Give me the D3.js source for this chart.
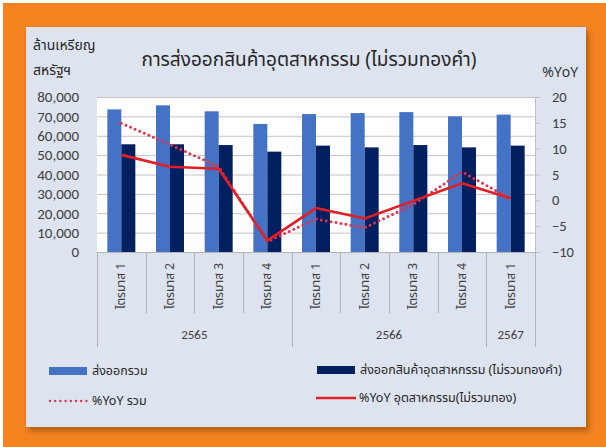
<!DOCTYPE html>
<html>
<head>
<meta charset="utf-8">
<script src="https://cdn.jsdelivr.net/npm/d3@7"></script>
<style>
  html, body { margin: 0; padding: 0; background: #ffffff; }
  svg { display: block; }
  text { font-family: Tahoma, "Leelawadee UI", "Noto Sans Thai", "Noto Sans", "DejaVu Sans", sans-serif; }
</style>
</head>
<body>
<svg id="chart" width="606" height="447"></svg>
<script>
// Quarterly export values (million USD) and year-on-year growth (%)
const quarters = ["ไตรมาส 1", "ไตรมาส 2", "ไตรมาส 3", "ไตรมาส 4",
                  "ไตรมาส 1", "ไตรมาส 2", "ไตรมาส 3", "ไตรมาส 4",
                  "ไตรมาส 1"];
const years = ["2565", "2565", "2565", "2565",
               "2566", "2566", "2566", "2566",
               "2567"];
const totalExports    = [73600, 75700, 72600, 66100, 71200, 71700, 72200, 70000, 70900];
const industryExports = [55600, 55600, 55200, 51800, 54900, 54000, 55200, 54000, 54900];
const yoyTotal        = [14.9, 10.8, 6.5, -8.0, -3.6, -5.3, -0.8, 5.5, 0.3];
const yoyIndustry     = [8.8, 6.5, 6.1, -7.8, -1.5, -3.5, -0.1, 3.3, 0.4];
const leftTicks  = [0, 10000, 20000, 30000, 40000, 50000, 60000, 70000, 80000];
const rightTicks = [-10, -5, 0, 5, 10, 15, 20];

const seriesNames = ["ส่งออกรวม", "ส่งออกสินค้าอุตสาหกรรม (ไม่รวมทองคำ)",
                     "%YoY รวม", "%YoY อุตสาหกรรม(ไม่รวมทอง)"];

const C = {
  orange: "#f3821f",
  panel: "#dde4ef",
  barLight: "#4472c4",
  barDark: "#002060",
  lineSolid: "#e31e26",
  lineDot: "#e2314a",
  grid: "#c4c4c4",
  text: "#404040"
};

const numFont = "Calibri, Carlito, 'Open Sans', sans-serif";

const svg = d3.select("#chart");

// Shadow under the card
const defs = svg.append("defs");
const f = defs.append("filter").attr("id", "cardShadow")
  .attr("x", "-5%").attr("y", "-5%").attr("width", "115%").attr("height", "115%");
f.append("feDropShadow").attr("dx", 3).attr("dy", 4).attr("stdDeviation", 2.5)
  .attr("flood-color", "#6b3200").attr("flood-opacity", 0.45);

svg.append("rect").attr("x", 3).attr("y", 3).attr("width", 603).attr("height", 444).attr("fill", C.orange);
svg.append("rect").attr("x", 26).attr("y", 27).attr("width", 560).attr("height", 400)
  .attr("fill", C.panel).attr("filter", "url(#cardShadow)");

// Plot geometry
const plot = { left: 97, right: 535, top: 97, bottom: 252 };
const idx = d3.range(quarters.length);

const x = d3.scaleBand().domain(idx).range([plot.left, plot.right]).padding(0);
const xSub = d3.scaleBand().domain([0, 1]).range([0, x.bandwidth()])
  .paddingInner(0).paddingOuter(0.738);
const yL = d3.scaleLinear().domain([0, 80000]).range([plot.bottom, plot.top]);
const yR = d3.scaleLinear().domain([-10, 20]).range([plot.bottom, plot.top]);

// White plot area
svg.append("rect").attr("x", plot.left).attr("y", plot.top)
  .attr("width", plot.right - plot.left).attr("height", plot.bottom - plot.top)
  .attr("fill", "#ffffff");

// Horizontal gridlines
const grid = svg.append("g").attr("transform", `translate(${plot.left},0)`)
  .call(d3.axisLeft(yL).tickValues(leftTicks).tickSize(-(plot.right - plot.left)).tickFormat(""));
grid.select(".domain").remove();
grid.selectAll("line").attr("stroke", C.grid).attr("stroke-width", 1);

// Left axis labels
const axL = svg.append("g").attr("transform", `translate(${plot.left},0)`)
  .call(d3.axisLeft(yL).tickValues(leftTicks).tickSize(0).tickPadding(18).tickFormat(d3.format(",")));
axL.select(".domain").remove();
axL.selectAll("text").attr("fill", C.text).style("font-size", "15px").style("font-family", numFont);

// Right axis
const axR = svg.append("g").attr("transform", `translate(${plot.right},0)`)
  .call(d3.axisRight(yR).tickValues(rightTicks).tickSize(5).tickSizeOuter(0).tickPadding(12));
axR.select(".domain").attr("stroke", "#bfbfbf");
axR.selectAll("line").attr("stroke", "#bfbfbf");
axR.selectAll("text").attr("fill", C.text).style("font-size", "14.5px").style("font-family", numFont);

// Bars
const barData = [totalExports, industryExports];
const barColors = [C.barLight, C.barDark];
barData.forEach((vals, s) => {
  svg.append("g").selectAll("rect").data(idx).join("rect")
    .attr("x", i => x(i) + xSub(s))
    .attr("width", xSub.bandwidth())
    .attr("y", i => yL(vals[i]))
    .attr("height", i => yL(0) - yL(vals[i]))
    .attr("fill", barColors[s]);
});

// Category axis baseline and separators
const sep = svg.append("g").attr("stroke", "#b4b4b4").attr("stroke-width", 1);
sep.append("line").attr("x1", plot.left).attr("x2", plot.right)
  .attr("y1", plot.bottom + 0.5).attr("y2", plot.bottom + 0.5);
const bounds = d3.range(quarters.length + 1);
sep.selectAll("line.b").data(bounds).join("line").attr("class", "b")
  .attr("x1", b => Math.round(plot.left + b * x.step()) + 0.5)
  .attr("x2", b => Math.round(plot.left + b * x.step()) + 0.5)
  .attr("y1", plot.bottom)
  .attr("y2", b => (b === 0 || b === quarters.length || years[b] !== years[b - 1]) ? 347 : 313);

// Rotated quarter labels
svg.append("g").selectAll("text").data(idx).join("text")
  .attr("transform", i => `translate(${x(i) + x.bandwidth() / 2 + 4},${plot.bottom + 11}) rotate(-90)`)
  .attr("text-anchor", "end")
  .attr("fill", C.text).style("font-size", "12px")
  .text(i => quarters[i]);

// Year group labels
const groups = d3.groups(idx, i => years[i]);
svg.append("g").selectAll("text").data(groups).join("text")
  .attr("x", g => (x(g[1][0]) + x(g[1][g[1].length - 1]) + x.bandwidth()) / 2)
  .attr("y", 339)
  .attr("text-anchor", "middle")
  .attr("fill", C.text).style("font-size", "13px").style("font-family", numFont)
  .text(g => g[0]);

// Growth lines
const cx = i => x(i) + x.bandwidth() / 2;
const lineGen = vals => d3.line().x(i => cx(i)).y(i => yR(vals[i]))(idx);
svg.append("path").attr("d", lineGen(yoyTotal)).attr("fill", "none")
  .attr("stroke", C.lineDot).attr("stroke-width", 3)
  .attr("stroke-dasharray", "0,5").attr("stroke-linecap", "round");
svg.append("path").attr("d", lineGen(yoyIndustry)).attr("fill", "none")
  .attr("stroke", C.lineSolid).attr("stroke-width", 2.6).attr("stroke-linejoin", "round");

// Titles
svg.append("text").attr("x", 309).attr("y", 66).attr("text-anchor", "middle")
  .attr("fill", "#262626").style("font-size", "19px")
  .text("การส่งออกสินค้าอุตสาหกรรม (ไม่รวมทองคำ)");
svg.append("text").attr("x", 33).attr("y", 50).attr("fill", "#262626").style("font-size", "14px")
  .text("ล้านเหรียญ");
svg.append("text").attr("x", 33).attr("y", 75).attr("fill", "#262626").style("font-size", "14px")
  .text("สหรัฐฯ");
svg.append("text").attr("x", 578).attr("y", 77).attr("text-anchor", "end")
  .attr("fill", "#262626").style("font-size", "14px").style("font-family", "'Open Sans', sans-serif")
  .text("%YoY");

// Legend
const leg = svg.append("g").style("font-size", "12.5px").attr("fill", "#262626");
const legItems = [
  { x: 49, y: 371, type: "bar", color: C.barLight, label: seriesNames[0] },
  { x: 317, y: 370, type: "bar", color: C.barDark, label: seriesNames[1] },
  { x: 49, y: 401, type: "dot", color: C.lineDot, label: seriesNames[2] },
  { x: 316, y: 398, type: "line", color: C.lineSolid, label: seriesNames[3] }
];
legItems.forEach(d => {
  if (d.type === "bar") {
    leg.append("rect").attr("x", d.x).attr("y", d.y - 4).attr("width", 38).attr("height", 8).attr("fill", d.color);
  } else if (d.type === "dot") {
    leg.append("line").attr("x1", d.x + 1).attr("x2", d.x + 38).attr("y1", d.y).attr("y2", d.y)
      .attr("stroke", d.color).attr("stroke-width", 2.4).attr("stroke-dasharray", "0,5.2").attr("stroke-linecap", "round");
  } else {
    leg.append("line").attr("x1", d.x).attr("x2", d.x + 40).attr("y1", d.y).attr("y2", d.y)
      .attr("stroke", d.color).attr("stroke-width", 2.4);
  }
  leg.append("text").attr("x", d.x + 43).attr("y", d.y).attr("dy", "0.35em").text(d.label);
});
</script>
</body>
</html>
